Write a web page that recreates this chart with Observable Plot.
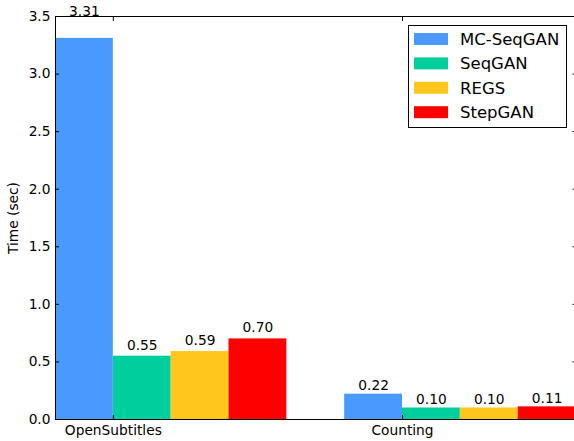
<!DOCTYPE html>
<html>
<head>
<meta charset="utf-8">
<script src="https://cdn.jsdelivr.net/npm/d3@7"></script>
<script src="https://cdn.jsdelivr.net/npm/@observablehq/plot@0.6"></script>
<style>
  html, body { margin: 0; padding: 0; background: #fff; overflow: hidden; }
  #chart { width: 574px; height: 441px; }
</style>
</head>
<body>
<div id="chart"></div>
<script>
const groups = ["OpenSubtitles", "Counting"];
const series = ["MC-SeqGAN", "SeqGAN", "REGS", "StepGAN"];
const colors = ["#4a99ff", "#00cf9d", "#ffc61e", "#ff0000"];
const openSubtitlesTimes = [3.31, 0.55, 0.59, 0.70];
const countingTimes = [0.22, 0.10, 0.10, 0.11];
const yTicks = [0, 0.5, 1.0, 1.5, 2.0, 2.5, 3.0, 3.5];
const barWidth = 0.2;

const valuesByGroup = [openSubtitlesTimes, countingTimes];
const rows = [];
groups.forEach((g, gi) => {
  series.forEach((s, si) => {
    const x1 = gi + si * barWidth;
    rows.push({group: g, series: s, value: valuesByGroup[gi][si], x1, x2: x1 + barWidth});
  });
});
const groupTicks = groups.map((g, gi) => gi + barWidth);

const font = "DejaVu Sans";
const fs = 13.75;

const chart = Plot.plot({
  width: 574,
  height: 441,
  marginLeft: 55,
  marginRight: 0,
  marginTop: 16,
  marginBottom: 22,
  style: {fontFamily: font, fontSize: fs + "px", background: "#fff", color: "#000", overflow: "hidden"},
  x: {domain: [0, 1.8], range: [55, 575.5]},
  y: {domain: [0, 3.5]},
  color: {domain: series, range: colors},
  marks: [
    Plot.rectY(rows, {x1: "x1", x2: "x2", y: "value", fill: "series"}),
    Plot.text(rows, {
      x: d => d.x1 + barWidth / 2,
      y: d => d.value * 1.05,
      text: d => d.value.toFixed(2),
      lineAnchor: "bottom",
      dy: -3,
      fontSize: fs,
      fill: "#000"
    }),
    Plot.axisY({ticks: yTicks, tickFormat: d3.format(".1f"), tickSize: -4, tickPadding: 9, fontSize: fs,
      label: "Time (sec)", labelAnchor: "center", labelArrow: "none", labelOffset: 47}),
    Plot.axisY({anchor: "right", ticks: yTicks, tickFormat: () => "", tickSize: -4, label: null, dx: 1.5}),
    Plot.axisX({ticks: groupTicks, tickFormat: d => groups[Math.round(d - barWidth)], tickSize: -4, tickPadding: 10, fontSize: fs, label: null}),
    Plot.axisX({anchor: "top", ticks: groupTicks, tickFormat: () => "", tickSize: -4, label: null}),
    Plot.frame({anchor: "left", stroke: "#000", strokeWidth: 1}),
    Plot.frame({anchor: "top", stroke: "#000", strokeWidth: 1}),
    Plot.frame({anchor: "bottom", stroke: "#000", strokeWidth: 1})
  ]
});
document.getElementById("chart").appendChild(chart);

// Legend drawn inside the SVG
const svg = d3.select(chart);
const lg = svg.append("g").attr("font-family", font).attr("font-size", 16.5).attr("text-anchor", "start");
lg.append("rect").attr("x", 408.5).attr("y", 25.5).attr("width", 158).attr("height", 102)
  .attr("fill", "#fff").attr("stroke", "#000").attr("stroke-width", 1);
series.forEach((s, i) => {
  const cy = 39 + i * 24.4;
  lg.append("rect").attr("x", 414).attr("y", cy - 6).attr("width", 34).attr("height", 12).attr("fill", colors[i]);
  lg.append("text").attr("x", 460).attr("y", cy).attr("dy", "0.35em").attr("fill", "#000").text(s);
});
</script>
</body>
</html>
